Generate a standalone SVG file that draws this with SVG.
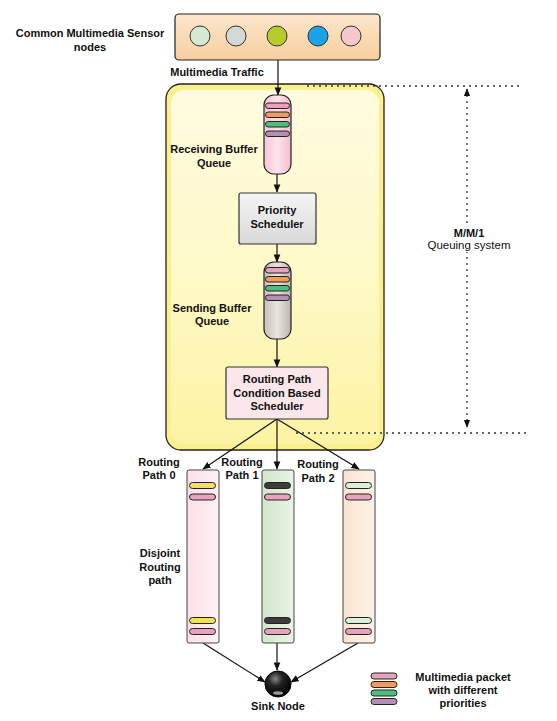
<svg xmlns="http://www.w3.org/2000/svg" width="557" height="721" viewBox="0 0 557 721">
<style>
text{font-family:"Liberation Sans",Arial,sans-serif;font-size:11px;font-weight:bold;fill:#111;text-anchor:middle}
.reg{font-weight:normal}
.ln{stroke:#111;stroke-width:1.2;fill:none}
.dot{stroke:#333;stroke-width:1.3;fill:none;stroke-dasharray:2 4}
.pk{stroke:#222;stroke-width:1}
.col{stroke:#444;stroke-width:1}
</style>
<defs>
<marker id="ar" viewBox="0 0 10 10" refX="9" refY="5" markerWidth="7" markerHeight="7" orient="auto-start-reverse"><path d="M0,1 L10,5 L0,9 z" fill="#111"/></marker>
<marker id="ars" viewBox="0 0 10 10" refX="9" refY="5" markerWidth="6" markerHeight="6" orient="auto-start-reverse"><path d="M0,1 L10,5 L0,9 z" fill="#111"/></marker>
<linearGradient id="gTop" x1="0" y1="0" x2="0" y2="1"><stop offset="0" stop-color="#fce6cc"/><stop offset="1" stop-color="#f7cf9e"/></linearGradient>
<linearGradient id="gYel" x1="0" y1="0" x2="0" y2="1"><stop offset="0" stop-color="#fffbe0"/><stop offset="0.5" stop-color="#fef9c8"/><stop offset="1" stop-color="#fdf3a4"/></linearGradient>
<linearGradient id="gGray" x1="0" y1="0" x2="0" y2="1"><stop offset="0" stop-color="#f5f5f5"/><stop offset="1" stop-color="#d8d8d8"/></linearGradient>
<linearGradient id="gCylP" x1="0" y1="0" x2="1" y2="0"><stop offset="0" stop-color="#f7c4d4"/><stop offset="0.5" stop-color="#fde4ec"/><stop offset="1" stop-color="#f4bccd"/></linearGradient>
<linearGradient id="gCylG" x1="0" y1="0" x2="1" y2="0"><stop offset="0" stop-color="#c8c0b8"/><stop offset="0.5" stop-color="#e8e4e0"/><stop offset="1" stop-color="#bdb4ac"/></linearGradient>
<linearGradient id="gR0" x1="0" y1="0" x2="1" y2="0"><stop offset="0" stop-color="#fbe0e6"/><stop offset="1" stop-color="#fdf2f4"/></linearGradient>
<linearGradient id="gR1" x1="0" y1="0" x2="1" y2="0"><stop offset="0" stop-color="#d2e6cc"/><stop offset="1" stop-color="#eaf4e6"/></linearGradient>
<linearGradient id="gR2" x1="0" y1="0" x2="1" y2="0"><stop offset="0" stop-color="#fbe4d0"/><stop offset="1" stop-color="#fdf3ea"/></linearGradient>
<radialGradient id="gSink" cx="0.4" cy="0.3" r="0.7"><stop offset="0" stop-color="#888"/><stop offset="0.4" stop-color="#222"/><stop offset="1" stop-color="#000"/></radialGradient>
</defs>

<g id="queuing-system">
<rect x="166" y="84" width="218" height="366" rx="15" fill="#fbef8e" stroke="#222" stroke-width="1.3"/>
<rect x="171" y="90" width="208" height="354" rx="13" fill="url(#gYel)"/>
</g>

<g id="connectors">
<line class="ln" x1="278" y1="60" x2="278" y2="95" marker-end="url(#ar)"/>
<line class="ln" x1="277" y1="174" x2="277" y2="192" marker-end="url(#ar)"/>
<line class="ln" x1="277" y1="244" x2="277" y2="262" marker-end="url(#ar)"/>
<line class="ln" x1="277" y1="339" x2="277" y2="367" marker-end="url(#ar)"/>
<line class="ln" x1="277" y1="419" x2="203" y2="469" marker-end="url(#ar)"/>
<line class="ln" x1="277" y1="419" x2="277" y2="469" marker-end="url(#ar)"/>
<line class="ln" x1="277" y1="419" x2="359" y2="469" marker-end="url(#ar)"/>
<line class="ln" x1="203" y1="643" x2="265" y2="682" marker-end="url(#ar)"/>
<line class="ln" x1="277" y1="643" x2="277" y2="670" marker-end="url(#ar)"/>
<line class="ln" x1="358" y1="643" x2="291" y2="682" marker-end="url(#ar)"/>
</g>

<g id="mm1">
<line class="dot" x1="307" y1="86" x2="522" y2="86"/>
<line class="dot" x1="296" y1="433" x2="526" y2="433"/>
<line class="dot" x1="467" y1="89" x2="467" y2="427" marker-start="url(#ars)" marker-end="url(#ars)"/>
<rect x="425" y="226" width="88" height="26" fill="#fff"/>
<text x="469" y="237">M/M/1</text>
<text class="reg" x="469" y="249" style="font-size:11.5px">Queuing system</text>
</g>

<g id="sensor-nodes">
<rect x="175" y="14" width="205" height="46" rx="4" fill="url(#gTop)" stroke="#222" stroke-width="1.2"/>
<circle cx="200" cy="36" r="10" fill="#d6e9d3" stroke="#333"/>
<circle cx="236" cy="36" r="10" fill="#d3dad6" stroke="#333"/>
<circle cx="277" cy="36" r="10" fill="#b6cc2c" stroke="#333"/>
<circle cx="318" cy="36" r="10" fill="#1aa3e6" stroke="#333"/>
<circle cx="351" cy="36" r="10" fill="#f7c8cb" stroke="#333"/>
<text x="90" y="37">Common Multimedia Sensor</text>
<text x="90" y="51">nodes</text>
<text x="217" y="76">Multimedia Traffic</text>
</g>

<g id="receiving-buffer">
<rect x="264" y="95" width="27" height="79" rx="10" fill="url(#gCylP)" stroke="#222" stroke-width="1.2"/>
<rect class="pk" x="265.5" y="103" width="24" height="5.5" rx="2.7" fill="#e8a2bb"/>
<rect class="pk" x="265.5" y="112" width="24" height="5.5" rx="2.7" fill="#f29c5a"/>
<rect class="pk" x="265.5" y="121.5" width="24" height="5.5" rx="2.7" fill="#4cbf7c"/>
<rect class="pk" x="265.5" y="131" width="24" height="5.5" rx="2.7" fill="#b58eb6"/>
<text x="214" y="153">Receiving Buffer</text>
<text x="214" y="167">Queue</text>
</g>

<g id="priority-scheduler">
<rect x="239" y="193" width="77" height="51" rx="2" fill="url(#gGray)" stroke="#333" stroke-width="1.2"/>
<text x="277" y="214">Priority</text>
<text x="277" y="228">Scheduler</text>
</g>

<g id="sending-buffer">
<rect x="264" y="262" width="27" height="77" rx="10" fill="url(#gCylG)" stroke="#222" stroke-width="1.2"/>
<rect class="pk" x="265.5" y="267.5" width="24" height="5.5" rx="2.7" fill="#e8a2bb"/>
<rect class="pk" x="265.5" y="276.5" width="24" height="5.5" rx="2.7" fill="#f29c5a"/>
<rect class="pk" x="265.5" y="285.5" width="24" height="5.5" rx="2.7" fill="#4cbf7c"/>
<rect class="pk" x="265.5" y="295" width="24" height="5.5" rx="2.7" fill="#b58eb6"/>
<text x="212" y="312">Sending Buffer</text>
<text x="212" y="325">Queue</text>
</g>

<g id="routing-scheduler">
<rect x="226" y="367" width="102" height="52" rx="2" fill="#fbe6ea" stroke="#333" stroke-width="1.2"/>
<text x="277" y="383">Routing  Path</text>
<text x="277" y="397">Condition Based</text>
<text x="277" y="410">Scheduler</text>
</g>

<g id="routing-path-0">
<rect class="col" x="187" y="470" width="32" height="173" rx="2" fill="url(#gR0)"/>
<rect class="pk" x="189.5" y="482.5" width="26" height="6" rx="3" fill="#f2e15a"/>
<rect class="pk" x="189.5" y="494" width="26" height="6" rx="3" fill="#e8a2bb"/>
<rect class="pk" x="189.5" y="617.5" width="26" height="6" rx="3" fill="#f2e15a"/>
<rect class="pk" x="189.5" y="628.5" width="26" height="6" rx="3" fill="#e8a2bb"/>
<text x="159" y="466">Routing</text>
<text x="159" y="479">Path 0</text>
<text x="160" y="557">Disjoint</text>
<text x="160" y="571">Routing</text>
<text x="160" y="584">path</text>
</g>

<g id="routing-path-1">
<rect class="col" x="262" y="470" width="32" height="173" rx="2" fill="url(#gR1)"/>
<rect class="pk" x="264.5" y="482.5" width="26" height="6" rx="3" fill="#3c3c3c"/>
<rect class="pk" x="264.5" y="494" width="26" height="6" rx="3" fill="#e8a2bb"/>
<rect class="pk" x="264.5" y="617.5" width="26" height="6" rx="3" fill="#3c3c3c"/>
<rect class="pk" x="264.5" y="628.5" width="26" height="6" rx="3" fill="#e8a2bb"/>
<text x="242" y="466">Routing</text>
<text x="242" y="479">Path 1</text>
</g>

<g id="routing-path-2">
<rect class="col" x="343" y="470" width="32" height="173" rx="2" fill="url(#gR2)"/>
<rect class="pk" x="345.5" y="482.5" width="26" height="6" rx="3" fill="#dcefd8"/>
<rect class="pk" x="345.5" y="494" width="26" height="6" rx="3" fill="#e8a2bb"/>
<rect class="pk" x="345.5" y="617.5" width="26" height="6" rx="3" fill="#dcefd8"/>
<rect class="pk" x="345.5" y="628.5" width="26" height="6" rx="3" fill="#e8a2bb"/>
<text x="318" y="468">Routing</text>
<text x="318" y="482">Path 2</text>
</g>

<g id="sink-node">
<circle cx="278" cy="684" r="13" fill="url(#gSink)" stroke="#000"/>
<ellipse cx="278" cy="693" rx="5" ry="1.8" fill="#999"/>
<text x="278" y="710">Sink Node</text>
</g>

<g id="legend">
<rect class="pk" x="371" y="673" width="26" height="6" rx="3" fill="#e8a2bb"/>
<rect class="pk" x="371" y="681.5" width="26" height="6" rx="3" fill="#f29c5a"/>
<rect class="pk" x="371" y="690" width="26" height="6" rx="3" fill="#4cbf7c"/>
<rect class="pk" x="371" y="698.5" width="26" height="6" rx="3" fill="#b58eb6"/>
<text x="463" y="681">Multimedia packet</text>
<text x="463" y="694">with different</text>
<text x="463" y="707">priorities</text>
</g>
</svg>
